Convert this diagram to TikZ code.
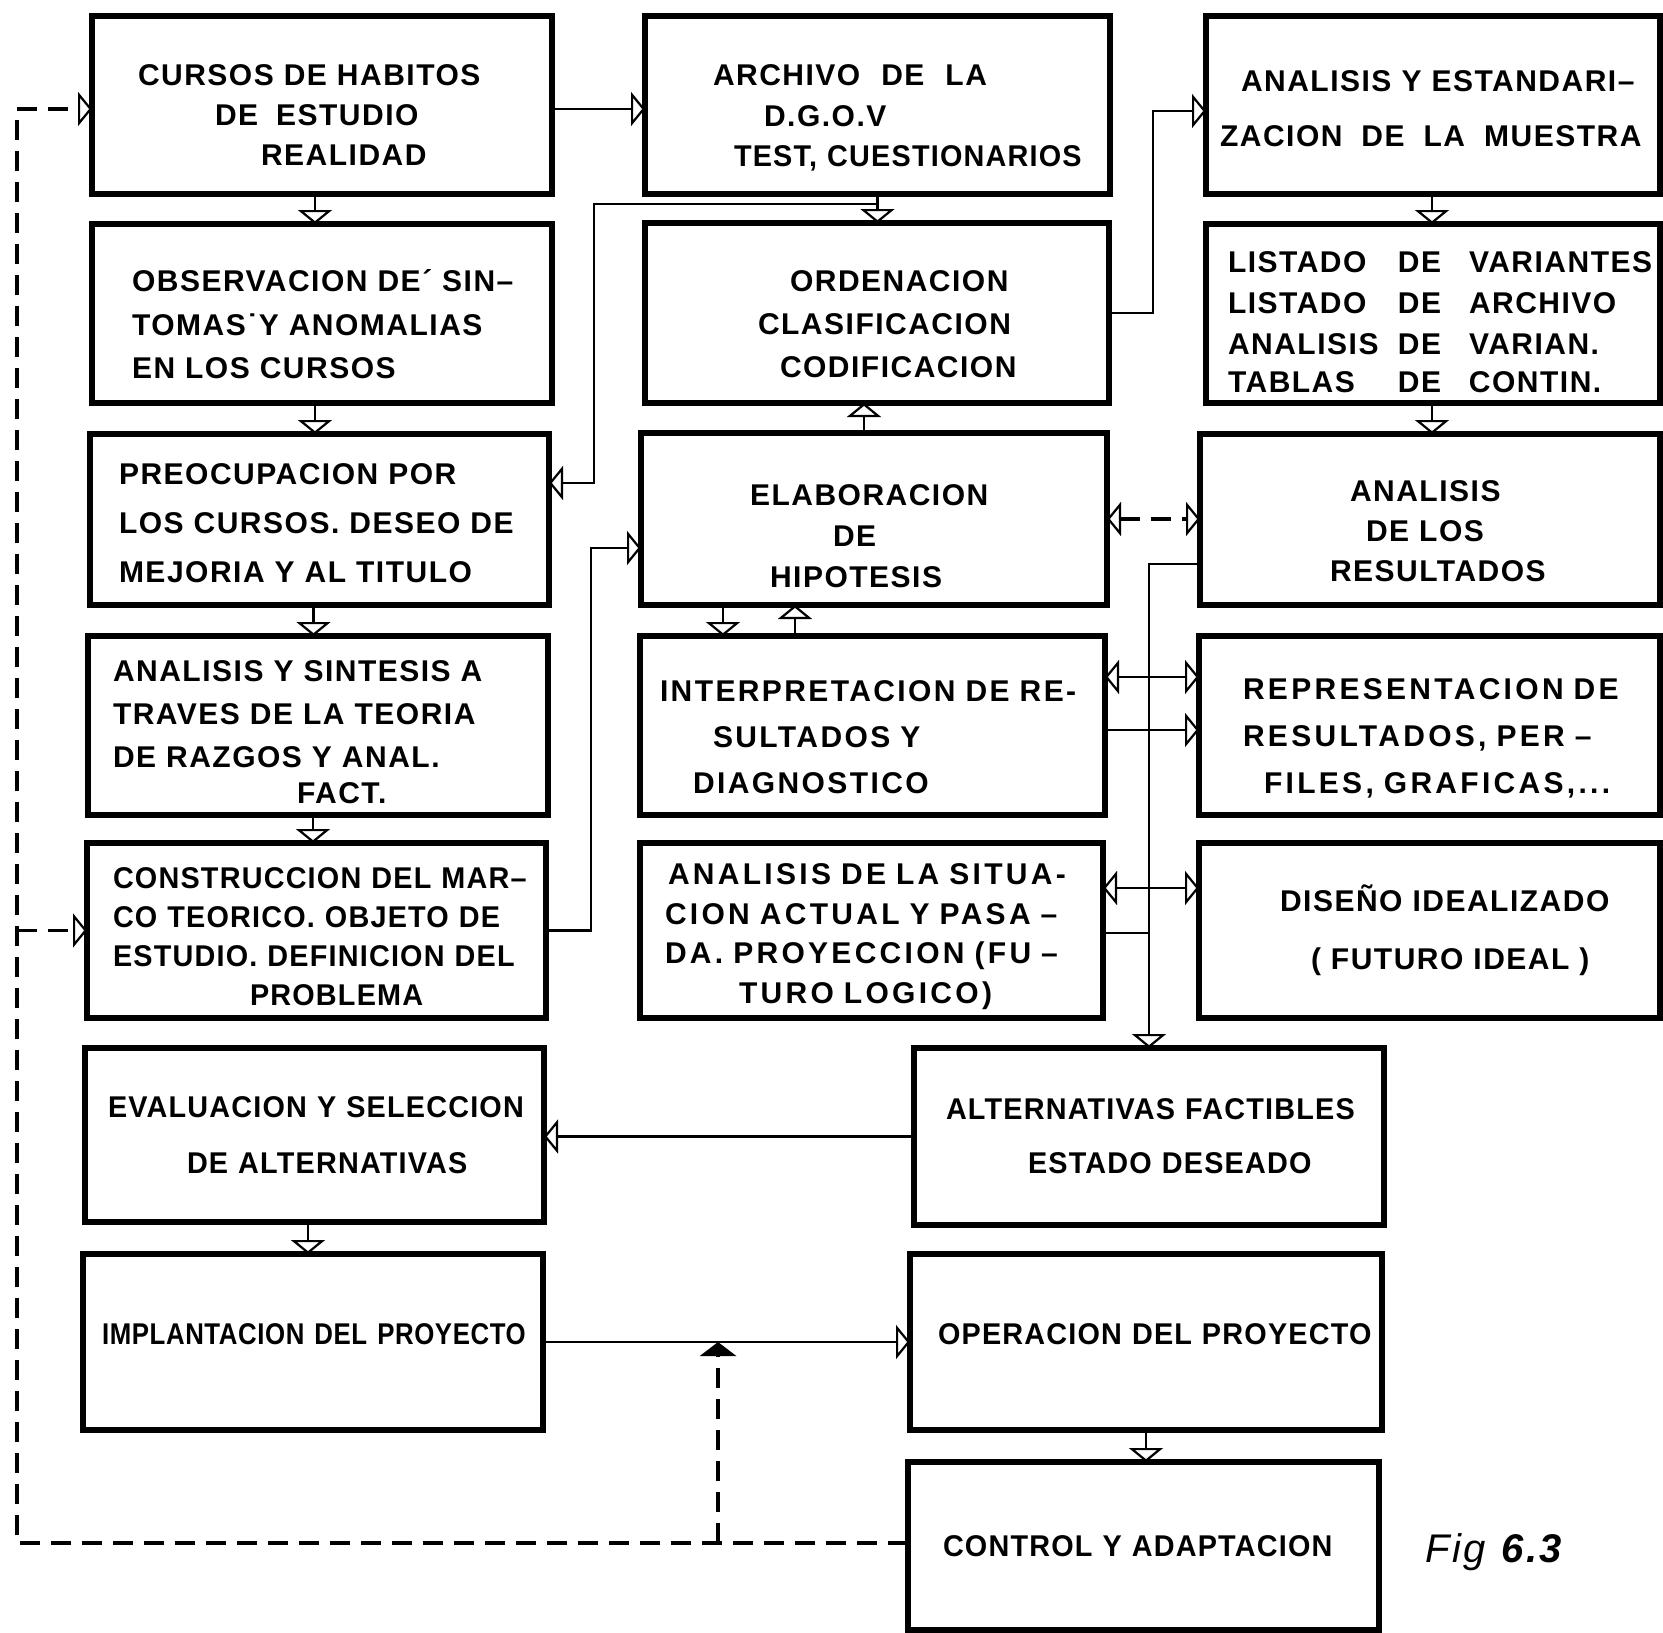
\documentclass[tikz,border=0pt]{standalone}
\usepackage{fontspec}
\usetikzlibrary{arrows.meta,calc}
\newfontfamily\bxf{Liberation Sans}[LetterSpace=5,WordSpace=2.2]
\newfontfamily\mxf{Liberation Sans}[LetterSpace=8,WordSpace=2.2]
\newfontfamily\wxf{Liberation Sans}[LetterSpace=11,WordSpace=2.2]
\newfontfamily\cxf{Liberation Sans}[FakeStretch=0.86,LetterSpace=2,WordSpace=1.9]
\newfontfamily\sxf{Liberation Sans}[FakeStretch=0.96,LetterSpace=4,WordSpace=2.2]
\newfontfamily\figf{Liberation Sans}[LetterSpace=6]
\newcommand\Lx[1]{\mbox{#1}}
\newcommand\up[1]{\rule{0pt}{\dimexpr 21.5pt+#1pt\relax}}
\newcommand\dd[1]{\rule[-#1pt]{0pt}{#1pt}}
\newcommand\vdown[3]{\draw[arr] ($(#1.south)+(#3,0)$) coordinate (vv) -- (vv |- #2.north);}
\newcommand\vup[3]{\draw[arr] ($(#1.north)+(#3,0)$) coordinate (vv) -- (vv |- #2.south);}
\tikzset{
  box/.style={draw, line width=6pt, inner sep=0pt, outer sep=0pt},
  tb/.style 2 args={align=left, text width=#1pt, font=\bxf\bfseries\fontsize{30pt}{#2pt}\selectfont},
  mb/.style 2 args={align=left, text width=#1pt, font=\mxf\bfseries\fontsize{30pt}{#2pt}\selectfont},
  wb/.style 2 args={align=left, text width=#1pt, font=\wxf\bfseries\fontsize{30pt}{#2pt}\selectfont},
  cb/.style 2 args={align=left, text width=#1pt, font=\cxf\bfseries\fontsize{30pt}{#2pt}\selectfont},
  sb/.style 2 args={align=left, text width=#1pt, font=\sxf\bfseries\fontsize{30pt}{#2pt}\selectfont},
  conn/.style={line width=2.6pt},
  arr/.style={conn,->},
  dashc/.style={line width=3.2pt, dash pattern=on 20pt off 11pt},
  >={Triangle[open, width=34pt, length=14pt, line width=2.2pt]}
}
\begin{document}
\begin{tikzpicture}[x=1pt,y=-1pt]
\useasboundingbox (0,0) rectangle (1663,1633);
\fill[white] (0,0) rectangle (1663,1633);

% column 1
\node[box, minimum width=460pt, minimum height=178pt, tb={368}{40}] (b1) at (322,105)
  {\Lx{\up{20}CURSOS DE HABITOS}\\\Lx{\hspace*{77pt}DE\hspace{8pt} ESTUDIO}\\\Lx{\hspace*{123pt}REALIDAD}};
\node[box, minimum width=460pt, minimum height=179pt, tb={380}{43.5}] (b2) at (322,313.5)
  {\Lx{\up{22}OBSERVACION DE´ SIN–}\\\Lx{TOMAS˙Y ANOMALIAS}\\\Lx{EN LOS CURSOS}};
\node[box, minimum width=459pt, minimum height=171pt, tb={401}{49}] (b3) at (319.5,519.5)
  {\Lx{\up{7}PREOCUPACION POR}\\\Lx{LOS CURSOS. DESEO DE}\\\Lx{MEJORIA Y AL TITULO}};
\node[box, minimum width=460pt, minimum height=179pt, tb={410}{43}] (b4) at (318,725.5)
  {\Lx{\up{12}ANALISIS Y SINTESIS A}\\\Lx{TRAVES DE LA TEORIA}\\\Lx{DE RAZGOS Y ANAL.}\\[-7pt]\Lx{\hspace*{184pt}FACT.}};
\node[box, minimum width=459pt, minimum height=175pt, sb={407}{39}] (b5) at (316.5,930.5)
  {\Lx{\up{12}CONSTRUCCION DEL MAR–}\\\Lx{CO TEORICO. OBJETO DE}\\\Lx{ESTUDIO. DEFINICION DEL}\\\Lx{\hspace*{137pt}PROBLEMA}};
\node[box, minimum width=459pt, minimum height=174pt, sb={413}{56}] (b6) at (314.5,1135)
  {\Lx{EVALUACION Y SELECCION}\\\Lx{\hspace*{79pt}DE ALTERNATIVAS}};
\node[box, minimum width=460pt, minimum height=176pt, cb={422}{40}] (b7) at (313,1342)
  {\Lx{IMPLANTACION DEL PROYECTO\dd{16}}};

% column 2
\node[box, minimum width=465pt, minimum height=178pt, tb={329}{40.5}] (archivo) at (877.5,105)
  {\Lx{\up{26}ARCHIVO\hspace{11pt} DE\hspace{11pt} LA}\\\Lx{\hspace*{51pt}D.G.O.V}\\\Lx{\hspace*{21pt}{\sxf TEST, CUESTIONARIOS}}};
\node[box, minimum width=464pt, minimum height=180pt, tb={238}{43}] (ordena) at (877,313)
  {\Lx{\up{22}\hspace*{32pt}ORDENACION}\\\Lx{CLASIFICACION}\\\Lx{\hspace*{22pt}CODIFICACION}};
\node[box, minimum width=466pt, minimum height=172pt, tb={248}{41}] (elab) at (874,519)
  {\Lx{\up{34}ELABORACION}\\\Lx{\hspace*{83pt}DE}\\\Lx{\hspace*{20pt}HIPOTESIS}};
\node[box, minimum width=465pt, minimum height=179pt, mb={425}{46}] (interp) at (872.5,725.5)
  {\Lx{\up{23}INTERPRETACION DE RE-}\\\Lx{\hspace*{53pt}SULTADOS Y}\\\Lx{\hspace*{33pt}DIAGNOSTICO}};
\node[box, minimum width=463pt, minimum height=175pt, wb={413}{39.5}] (ansit) at (871.5,930.5)
  {\Lx{\up{12}\hspace*{3pt}ANALISIS DE LA SITUA-}\\\Lx{CION ACTUAL Y PASA –}\\\Lx{DA. PROYECCION (FU –}\\\Lx{\hspace*{74pt}TURO LOGICO)}};

% column 3
\node[box, minimum width=454pt, minimum height=178pt, tb={426}{55}] (estand) at (1433,105)
  {\Lx{\up{6}\hspace*{21pt}ANALISIS Y ESTANDARI–}\\\Lx{ZACION\hspace{9pt} DE\hspace{9pt} LA\hspace{9pt} MUESTRA}};
\node[box, minimum width=454pt, minimum height=179pt, tb={410}{41}] (listado) at (1433,313.5)
  {\Lx{\up{16}\makebox[170pt][l]{LISTADO}\makebox[71pt][l]{DE}VARIANTES}\\
   \Lx{\makebox[170pt][l]{LISTADO}\makebox[71pt][l]{DE}ARCHIVO}\\
   \Lx{\makebox[170pt][l]{ANALISIS}\makebox[71pt][l]{DE}VARIAN.}\\[-3pt]
   \Lx{\makebox[170pt][l]{TABLAS}\makebox[71pt][l]{DE}CONTIN.}};
\node[box, minimum width=460pt, minimum height=171pt, tb={200}{40}] (result) at (1430,519.5)
  {\Lx{\up{23}\hspace*{20pt}ANALISIS}\\\Lx{\hspace*{36pt}DE LOS}\\\Lx{RESULTADOS}};
\node[box, minimum width=461pt, minimum height=179pt, wb={373}{47}] (repres) at (1429.5,725.5)
  {\Lx{\up{25}REPRESENTACION DE}\\\Lx{RESULTADOS, PER –}\\\Lx{\hspace*{21pt}FILES, GRAFICAS,...}};
\node[box, minimum width=461pt, minimum height=175pt, tb={299}{58}] (diseno) at (1429.5,930.5)
  {\Lx{DISEÑO IDEALIZADO}\\\Lx{\hspace*{31pt}( FUTURO IDEAL )\dd{4}}};

% bottom
\node[box, minimum width=470pt, minimum height=177pt, sb={406}{54}] (alt) at (1149,1136.5)
  {\Lx{ALTERNATIVAS FACTIBLES}\\\Lx{\hspace*{82pt}ESTADO DESEADO}};
\node[box, minimum width=472pt, minimum height=176pt, sb={416}{40}] (oper) at (1146,1342)
  {\Lx{OPERACION DEL PROYECTO\dd{16}}};
\node[box, minimum width=471pt, minimum height=168pt, sb={401}{40}] (control) at (1143.5,1546)
  {\Lx{CONTROL Y ADAPTACION}};

\node[font=\figf\itshape\fontsize{40pt}{44pt}\selectfont, anchor=base west, inner sep=0pt] (fig) at (1425,1562) {Fig\hspace{16pt}\textbf{6.3}};

% connectors column 1
\draw[arr] ($(b1.east)+(0,4)$) coordinate (bb) -- (bb -| archivo.west);
\vdown{b1}{b2}{-7}
\vdown{b2}{b3}{-7}
\vdown{b3}{b4}{-6}
\vdown{b4}{b5}{-5}
\vdown{b6}{b7}{-6.5}

% archivo
\vdown{archivo}{ordena}{0}
\coordinate (j1) at (594,204);
\coordinate (j2) at (594,483);
\draw[arr] (archivo.south |- j1) -- (j1) -- (j2) -- (j2 -| b3.east);

% ordena to estand
\coordinate (j3) at (1153,0);
\draw[arr] (ordena.east) -- (ordena.east -| j3) |- ($(estand.west)+(0,6)$);
\vup{elab}{ordena}{-10}
\vdown{estand}{listado}{-1}
\vdown{listado}{result}{-1}

% elab <-> result
\draw[dashc,<->] (elab.east) -- (elab.east -| result.west);

% b5 to elab
\coordinate (j4) at (591,0);
\draw[arr] (b5.east) -- (b5.east -| j4) |- ($(elab.west)+(0,29)$);

% elab / interp
\vdown{elab}{interp}{-151}
\vup{interp}{elab}{-77.5}

% bus
\draw[arr] ($(result.west)+(0,44.5)$) -| (alt.north);
\draw[conn,<->] ($(interp.east)+(0,-48.5)$) -- ($(repres.west)+(0,-48.5)$);
\draw[arr] ($(interp.east)+(0,4.5)$) -- ($(repres.west)+(0,4.5)$);
\draw[conn,<->] ($(ansit.east)+(0,-42.5)$) -- ($(diseno.west)+(0,-42.5)$);
\draw[conn] ($(ansit.east)+(0,2.5)$) coordinate (aa) -- (aa -| alt.north);

% bottom
\draw[arr] (alt.west) -- (alt.west -| b6.east);
\draw[arr] (b7.east) -- (b7.east -| oper.west);
\vdown{oper}{control}{0}

% feedback
\coordinate (lft) at (17,0);
\draw[dashc,->] ($(control.west)+(0,-3)$) coordinate (cw) -- (cw -| lft) |- ($(b1.west)+(0,4)$);
\draw[dashc,->] (lft |- b5.west) -- (b5.west);
\coordinate (mup) at ($(b7.east)!0.477!(oper.west)$);
\draw[dashc,-{Triangle[width=36pt,length=14pt]}] (mup |- cw) -- (mup);
\end{tikzpicture}
\end{document}
